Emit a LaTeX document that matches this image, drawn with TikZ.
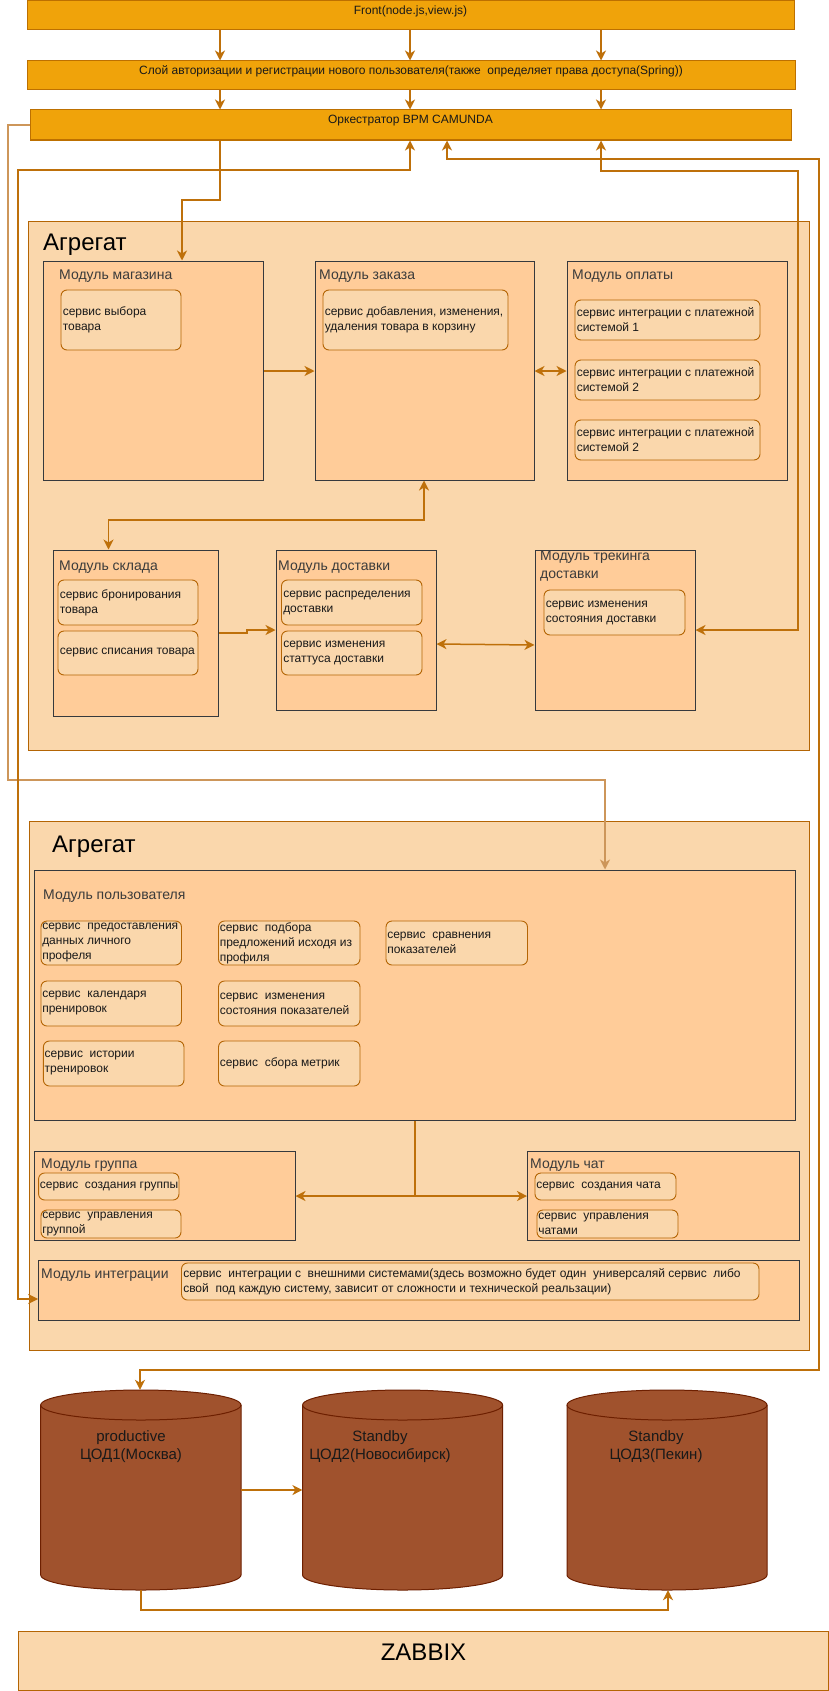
\documentclass[tikz,border=0pt]{standalone}
\usepackage{fontspec}
\setmainfont{Liberation Sans}
\usetikzlibrary{arrows.meta,fit,calc}
\definecolor{amber}{RGB}{240,163,10}
\definecolor{amberline}{RGB}{189,112,0}
\definecolor{aggfill}{RGB}{250,215,172}
\definecolor{aggline}{RGB}{180,101,4}
\definecolor{modfill}{RGB}{255,204,153}
\definecolor{modline}{RGB}{54,57,61}
\definecolor{cline}{RGB}{190,112,10}
\definecolor{fline}{RGB}{205,150,90}
\definecolor{dbfill}{RGB}{160,82,45}
\definecolor{dbline}{RGB}{109,31,0}
\definecolor{txt}{RGB}{25,25,25}
\newcommand\mycyl[4]{%
 \pgfmathsetmacro\myrx{(#2-#1)/2}%
 \draw[draw=dbline, fill=dbfill, line width=1pt] (#1,#3+15) -- (#1,#4-15) arc[start angle=180,end angle=360,x radius=\myrx pt,y radius=15pt] -- (#2,#3+15) arc[start angle=0,end angle=180,x radius=\myrx pt,y radius=15pt] -- cycle;
 \draw[draw=dbline, line width=1pt] (#1,#3+15) arc[start angle=180,end angle=360,x radius=\myrx pt,y radius=15pt];
}
\begin{document}
\begin{tikzpicture}[x=1pt,y=-1pt,
  topbox/.style={draw=amberline, fill=amber, line width=1pt, inner sep=0pt, font=\fontsize{12}{14}\selectfont, text=txt},
  aggbox/.style={draw=aggline, fill=aggfill, line width=1pt, inner sep=0pt},
  modbox/.style={draw=modline, fill=modfill, line width=1pt, inner sep=0pt},
  svcbox/.style={draw=aggline, fill=aggfill, line width=0.9pt, rounded corners=6pt, inner sep=0pt},
  svctext/.style={anchor=west, align=left, inner sep=0pt, font=\fontsize{12}{15}\selectfont, text=txt},
  modtitle/.style={anchor=west, align=left, inner sep=0pt, font=\fontsize{14}{18}\selectfont, text=txt!85},
  aggtitle/.style={anchor=base west, inner sep=0pt, font=\fontsize{24}{28}\selectfont, text=black},
  conn/.style={draw=cline, line width=1.5pt, >={Stealth[length=10pt,width=10pt,inset=3pt]}},
  frameconn/.style={conn, draw=fline},
  dbtext/.style={align=center, inner sep=0pt, font=\fontsize{15}{18.7}\selectfont, text=txt},
  dbname/.style={inner sep=0pt, draw=none},
]
\fill[white] (0,0) rectangle (829,1691);
\useasboundingbox (0,0) rectangle (829,1691);

% top layers
\node[topbox, fit={(27,1) (794,30)}] (front) {Front(node.js,view.js)};
\node[topbox, fit={(27,61) (795,90)}] (auth) {Слой авторизации и регистрации нового пользователя(также\ \ определяет права доступа(Spring))};
\node[topbox, fit={(30,110) (791,140)}] (orch) {Оркестратор BPM CAMUNDA};

% aggregate 1
\node[aggbox, fit={(28,221) (809,750)}] (agg1) {};
\node[aggtitle] (agg1t) at (43,250) {Агрегат};

\node[modbox, fit={(43,261) (263.5,480)}] (mag) {};
\node[modtitle] (magt) at (59,276) {Модуль магазина};
\node[svcbox, fit={(61,290) (181,350)}] (s1) {};
\node[svctext] (s1t) at ([xshift=2pt]s1.west) {сервис выбора\\товара};

\node[modbox, fit={(315,261) (534,480)}] (zak) {};
\node[modtitle] (zakt) at (319,276) {Модуль заказа};
\node[svcbox, fit={(323,290) (508,350)}] (s2) {};
\node[svctext] (s2t) at ([xshift=2pt]s2.west) {сервис добавления, изменения,\\удаления товара в корзину};

\node[modbox, fit={(567,261) (787,480)}] (opl) {};
\node[modtitle] (oplt) at (572,276) {Модуль оплаты};
\node[svcbox, fit={(575,300) (760,340)}] (s3) {};
\node[svctext] (s3t) at ([xshift=2pt]s3.west) {сервис интеграции с платежной\\системой 1};
\node[svcbox, fit={(575,360) (760,400)}] (s4) {};
\node[svctext] (s4t) at ([xshift=2pt]s4.west) {сервис интеграции с платежной\\системой 2};
\node[svcbox, fit={(575,420) (760,460)}] (s5) {};
\node[svctext] (s5t) at ([xshift=2pt]s5.west) {сервис интеграции с платежной\\системой 2};

\node[modbox, fit={(53,550) (218.5,716)}] (skl) {};
\node[modtitle] (sklt) at (59,567) {Модуль склада};
\node[svcbox, fit={(58,580) (198,625)}] (s6) {};
\node[svctext] (s6t) at ([xshift=2pt]s6.west) {сервис бронирования\\товара};
\node[svcbox, fit={(58,631) (198,675)}] (s7) {};
\node[svctext] (s7t) at ([xshift=2pt]s7.west) {сервис списания товара};

\node[modbox, fit={(276,550) (436,710)}] (dost) {};
\node[modtitle] (dostt) at (278,567) {Модуль доставки};
\node[svcbox, fit={(281.5,580) (422,625)}] (s8) {};
\node[svctext] (s8t) at ([xshift=2pt]s8.west) {сервис распределения\\доставки};
\node[svcbox, fit={(281.5,631) (422,675)}] (s9) {};
\node[svctext] (s9t) at ([xshift=2pt]s9.west) {сервис изменения\\статтуса доставки};

\node[modbox, fit={(535,550) (695,710)}] (trek) {};
\node[modtitle] (trekt) at (540,566) {Модуль трекинга\\доставки};
\node[svcbox, fit={(544,590) (685,635)}] (s10) {};
\node[svctext] (s10t) at ([xshift=2pt]s10.west) {сервис изменения\\состояния доставки};

% aggregate 2
\node[aggbox, fit={(29.6,821) (809,1350)}] (agg2) {};
\node[aggtitle] (agg2t) at (52,852) {Агрегат};

\node[modbox, fit={(34,870) (795,1120)}] (user) {};
\node[modtitle] (usert) at (43,896) {Модуль пользователя};
\node[svcbox, fit={(41,921) (181.5,965)}] (u1) {};
\node[svctext] (u1t) at ([xshift=1.5pt]u1.west) {сервис\ \ предоставления\\данных личного\\профеля};
\node[svcbox, fit={(218.5,921) (360,965)}] (u2) {};
\node[svctext] (u2t) at ([xshift=1.5pt]u2.west) {сервис\ \ подбора\\предложений исходя из\\профиля};
\node[svcbox, fit={(386,921) (527.5,965)}] (u3) {};
\node[svctext] (u3t) at ([xshift=1.5pt]u3.west) {сервис\ \ сравнения\\показателей};
\node[svcbox, fit={(41,981) (181.5,1026)}] (u4) {};
\node[svctext] (u4t) at ([xshift=1.5pt]u4.west) {сервис\ \ календаря\\пренировок};
\node[svcbox, fit={(218.5,981) (360,1026)}] (u5) {};
\node[svctext] (u5t) at ([xshift=1.5pt]u5.west) {сервис\ \ изменения\\состояния показателей};
\node[svcbox, fit={(43.4,1041) (184,1086)}] (u6) {};
\node[svctext] (u6t) at ([xshift=1.5pt]u6.west) {сервис\ \ истории\\тренировок};
\node[svcbox, fit={(218.5,1041) (360,1086)}] (u7) {};
\node[svctext] (u7t) at ([xshift=1.5pt]u7.west) {сервис\ \ сбора метрик};

\node[modbox, fit={(34,1151) (295,1240)}] (grp) {};
\node[modtitle] (grpt) at (41,1165) {Модуль группа};
\node[svcbox, fit={(38.6,1173) (179,1200)}] (g1) {};
\node[svctext] (g1t) at ([xshift=1.5pt]g1.west) {сервис\ \ создания группы};
\node[svcbox, fit={(41,1210) (181,1238)}] (g2) {};
\node[svctext] (g2t) at ([xshift=1.5pt]g2.west) {сервис\ \ управления\\группой};

\node[modbox, fit={(527.5,1151) (799,1240)}] (chat) {};
\node[modtitle] (chatt) at (530,1165) {Модуль чат};
\node[svcbox, fit={(535,1173) (676,1200)}] (c1) {};
\node[svctext] (c1t) at ([xshift=1.5pt]c1.west) {сервис\ \ создания чата};
\node[svcbox, fit={(537,1210) (678,1238)}] (c2) {};
\node[svctext] (c2t) at ([xshift=1.5pt]c2.west) {сервис\ \ управления\\чатами};

\node[modbox, fit={(38.6,1260) (799,1320)}] (integ) {};
\node[modtitle] (integt) at (41,1275) {Модуль интеграции};
\node[svcbox, fit={(181.5,1263) (759,1300)}] (i1) {};
\node[svctext] (i1t) at ([xshift=2pt]i1.west) {сервис\ \ интеграции с\ \ внешними системами(здесь возможно будет один\ \ универсаляй сервис\ \ либо\\свой\ \ под каждую систему, зависит от сложности и технической реальзации)};

% databases
\mycyl{40.7}{241}{1390}{1590}
\mycyl{302.6}{502.6}{1390}{1590}
\mycyl{567}{767}{1390}{1590}
\node[dbname, fit={(40.7,1390) (241,1590)}] (db1) {};
\node[dbname, fit={(302.6,1390) (502.6,1590)}] (db2) {};
\node[dbname, fit={(567,1390) (767,1590)}] (db3) {};
\node[dbtext] (db1t) at (131,1446.5) {productive\\ЦОД1(Москва)};
\node[dbtext] (db2t) at (380,1446.5) {Standby\\ЦОД2(Новосибирск)};
\node[dbtext] (db3t) at (656,1446.5) {Standby\\ЦОД3(Пекин)};

% zabbix
\node[aggbox, fit={(18.5,1631) (828.5,1690)}, font=\fontsize{24}{28}\selectfont, text=black] (zab) {ZABBIX};

% connectors
\foreach \xx in {220,410,601} {
  \draw[conn,->] (front.south -| \xx,0) -- (auth.north -| \xx,0);
  \draw[conn,->] (auth.south -| \xx,0) -- (orch.north -| \xx,0);
}
\draw[conn,->] (orch.south -| 220,0) -- (220,200) -- (182,200) -- (mag.north -| 182,0);
\draw[conn,->] (mag.east |- 0,371) -- (zak.west |- 0,371);
\draw[conn,<->] (zak.east |- 0,371) -- (opl.west |- 0,371);
\draw[conn,<->] (zak.south -| 424,0) -- (424,520) -- (108.5,520) -- (skl.north -| 108.5,0);
\draw[conn,->] (skl.east |- 0,633) -- (247,633) -- (247,630) -- (dost.west |- 0,630);
\draw[conn,<->] (dost.east |- 0,644) -- (trek.west |- 0,645);
\draw[conn,<->] (trek.east |- 0,630) -- (798,630) -- (798,171) -- (601,171) -- (orch.south -| 601,0);
\draw[frameconn,->] (orch.west |- 0,125) -- (8,125) -- (8,780) -- (605,780) -- (user.north -| 605,0);
\draw[conn,<->] (integ.west |- 0,1299) -- (18,1299) -- (18,170) -- (410,170) -- (orch.south -| 410,0);
\draw[conn,<->] (orch.south -| 447,0) -- (447,159) -- (819,159) -- (819,1370) -- (140,1370) -- (db1.north -| 140,0);
\coordinate (jn) at (415,1196);
\draw[conn] (user.south -| jn) -- (jn);
\draw[conn,->] (jn) -- (grp.east |- jn);
\draw[conn,->] (jn) -- (chat.west |- jn);
\draw[conn,->] (db1.east |- 0,1490) -- (db2.west |- 0,1490);
\draw[conn,->] (db1.south -| 141,0) -- (141,1610) -- (668,1610) -- (db3.south -| 668,0);
\end{tikzpicture}
\end{document}
